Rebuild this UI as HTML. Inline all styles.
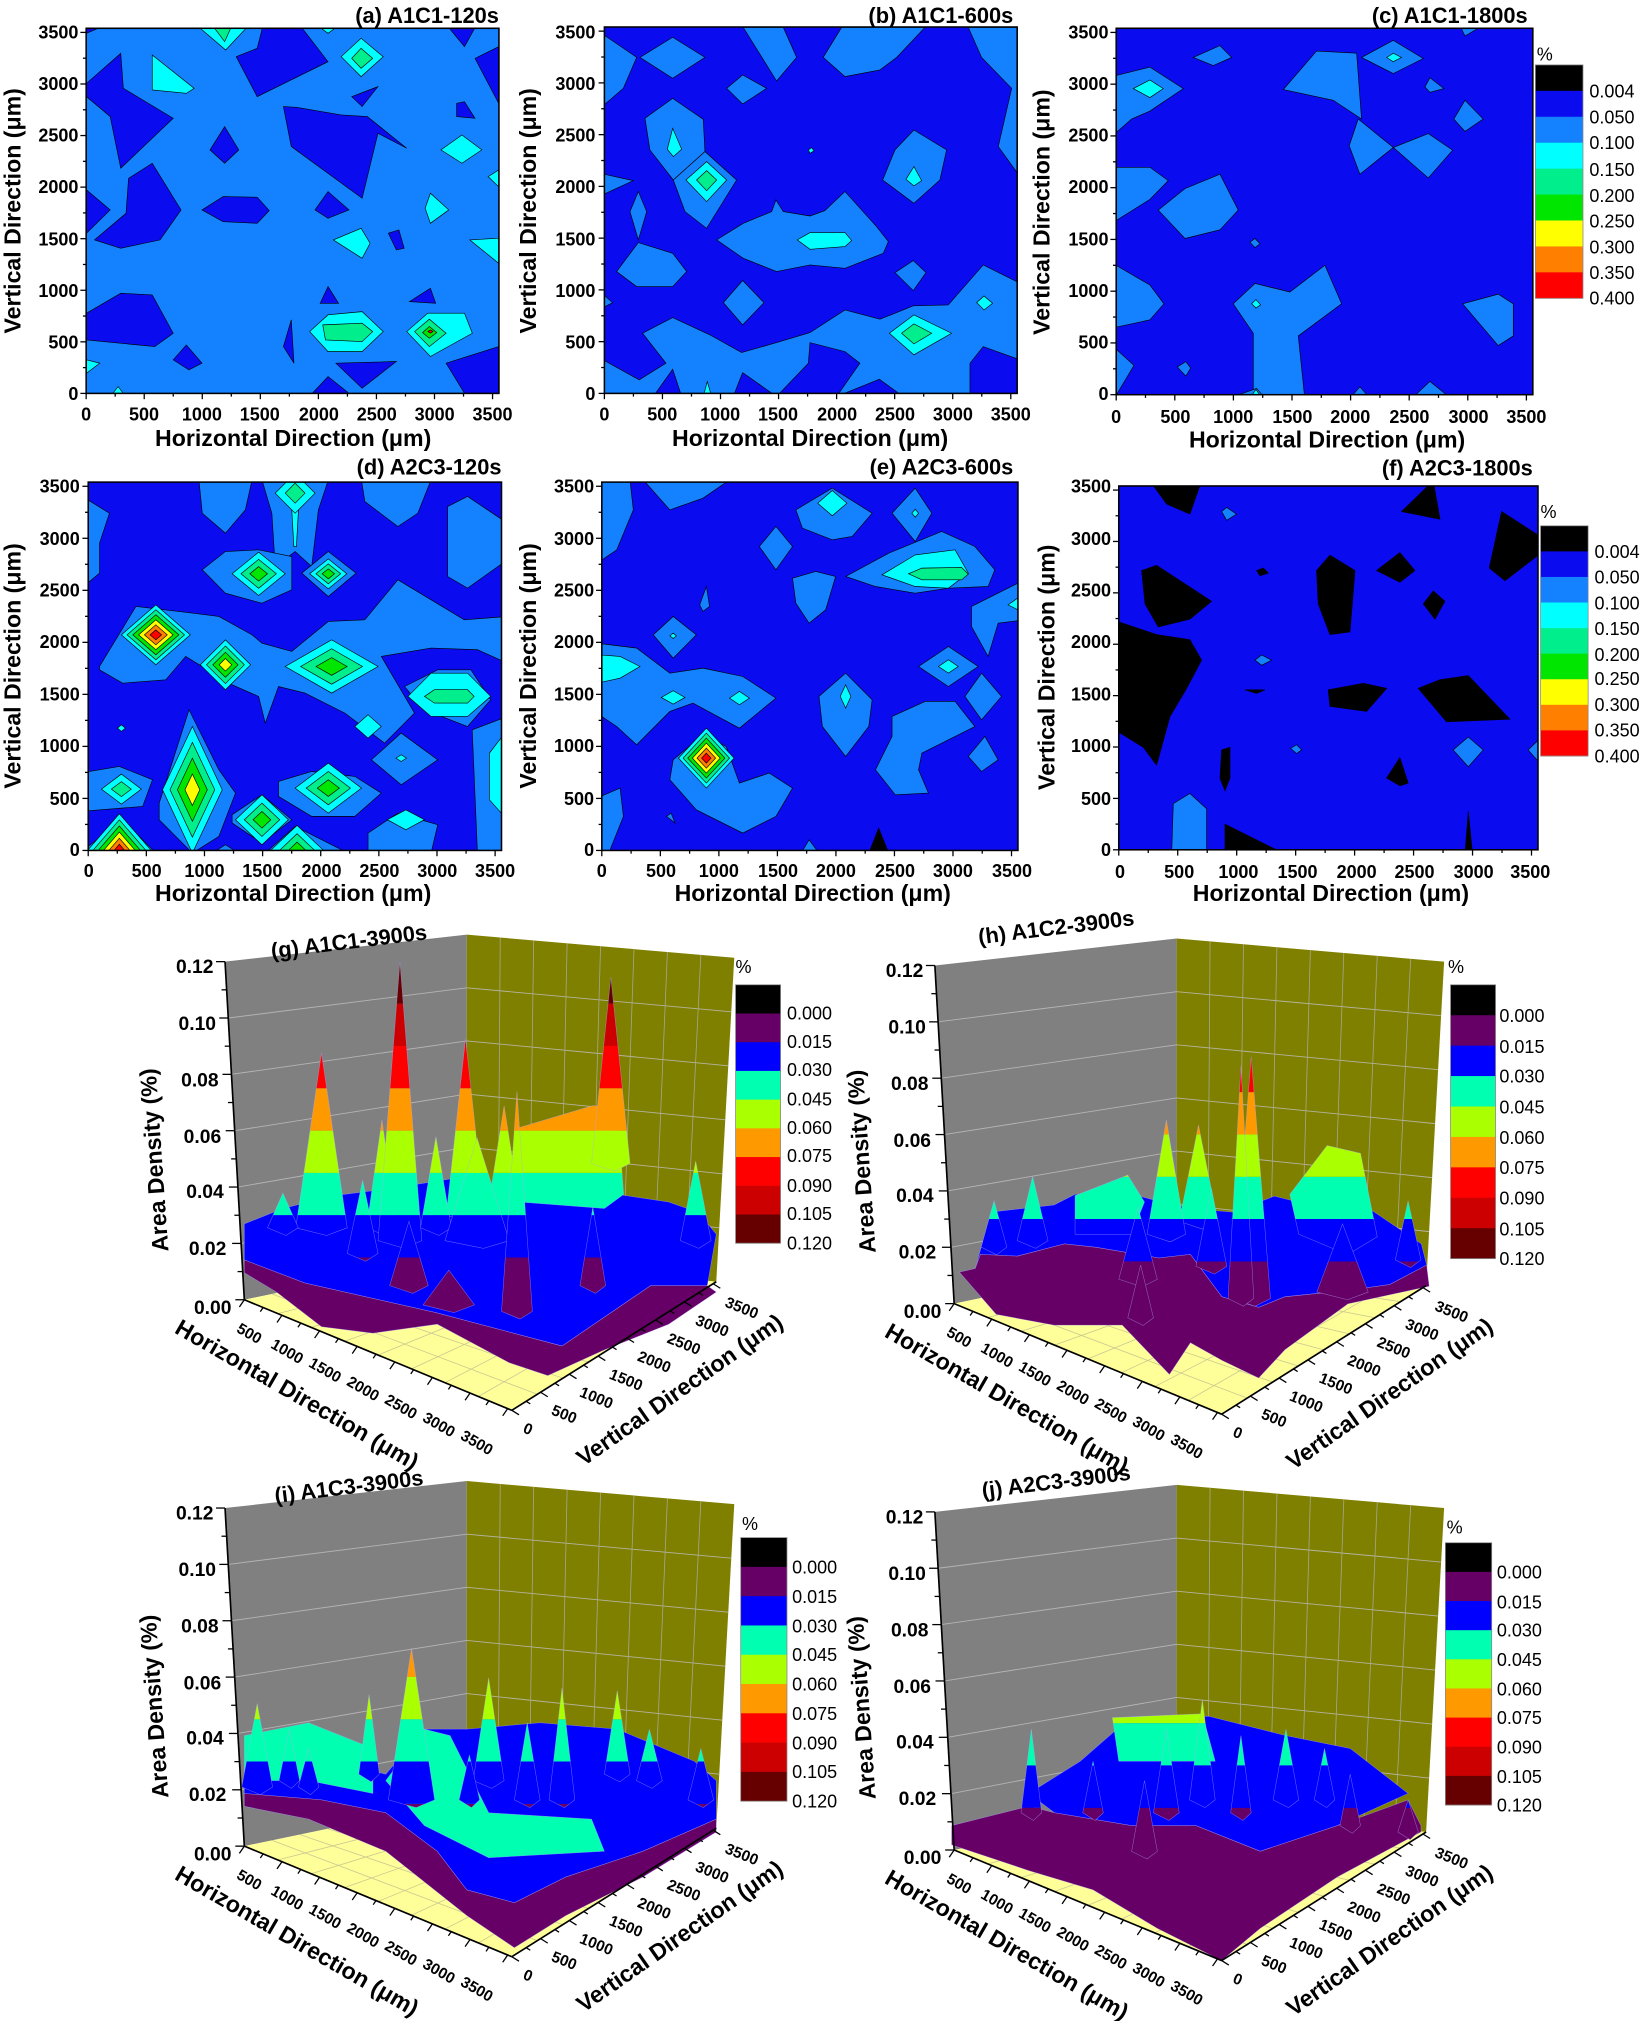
<!DOCTYPE html>
<html><head><meta charset="utf-8">
<style>
html,body{margin:0;padding:0;background:#fff;}
svg{display:block;}
.t{font-family:"Liberation Sans",Arial,sans-serif;font-weight:bold;font-size:14px;fill:#000;}
.ti{font-family:"Liberation Sans",Arial,sans-serif;font-weight:bold;font-size:17px;fill:#000;}
.ax{font-family:"Liberation Sans",Arial,sans-serif;font-weight:bold;font-size:18px;fill:#000;}
.cb{font-family:"Liberation Sans",Arial,sans-serif;font-size:14px;fill:#000;}
.zt{font-family:"Liberation Sans",Arial,sans-serif;font-weight:bold;font-size:15px;fill:#000;}
.ht{font-family:"Liberation Sans",Arial,sans-serif;font-weight:bold;font-size:12px;fill:#000;}
</style></head><body>
<svg id="s" xmlns="http://www.w3.org/2000/svg" width="1646" height="2021" viewBox="0 0 1280 1572" preserveAspectRatio="none">
<defs id="defs"></defs>
<g id="shapes"></g>

<text class="ti" text-anchor="end" x="388" y="18">(a) A1C1-120s</text>
<text class="ti" text-anchor="end" x="788" y="18">(b) A1C1-600s</text>
<text class="ti" text-anchor="end" x="1188" y="18">(c) A1C1-1800s</text>
<text class="ti" text-anchor="end" x="390" y="369">(d) A2C3-120s</text>
<text class="ti" text-anchor="end" x="788" y="369">(e) A2C3-600s</text>
<text class="ti" text-anchor="end" x="1192" y="370">(f) A2C3-1800s</text>

<text class="t" text-anchor="end"><tspan x="61" y="311">0</tspan><tspan x="61" y="271">500</tspan><tspan x="61" y="231">1000</tspan><tspan x="61" y="191">1500</tspan><tspan x="61" y="150">2000</tspan><tspan x="61" y="110">2500</tspan><tspan x="61" y="70">3000</tspan><tspan x="61" y="30">3500</tspan></text>
<text class="t" text-anchor="end"><tspan x="463" y="311">0</tspan><tspan x="463" y="271">500</tspan><tspan x="463" y="231">1000</tspan><tspan x="463" y="191">1500</tspan><tspan x="463" y="150">2000</tspan><tspan x="463" y="110">2500</tspan><tspan x="463" y="70">3000</tspan><tspan x="463" y="30">3500</tspan></text>
<text class="t" text-anchor="end"><tspan x="862" y="311">0</tspan><tspan x="862" y="271">500</tspan><tspan x="862" y="231">1000</tspan><tspan x="862" y="191">1500</tspan><tspan x="862" y="150">2000</tspan><tspan x="862" y="110">2500</tspan><tspan x="862" y="70">3000</tspan><tspan x="862" y="30">3500</tspan></text>
<text class="t" text-anchor="end"><tspan x="62" y="666">0</tspan><tspan x="62" y="626">500</tspan><tspan x="62" y="585">1000</tspan><tspan x="62" y="545">1500</tspan><tspan x="62" y="504">2000</tspan><tspan x="62" y="464">2500</tspan><tspan x="62" y="424">3000</tspan><tspan x="62" y="383">3500</tspan></text>
<text class="t" text-anchor="end"><tspan x="462" y="666">0</tspan><tspan x="462" y="626">500</tspan><tspan x="462" y="585">1000</tspan><tspan x="462" y="545">1500</tspan><tspan x="462" y="504">2000</tspan><tspan x="462" y="464">2500</tspan><tspan x="462" y="424">3000</tspan><tspan x="462" y="383">3500</tspan></text>
<text class="t" text-anchor="end"><tspan x="864" y="666">0</tspan><tspan x="864" y="626">500</tspan><tspan x="864" y="585">1000</tspan><tspan x="864" y="545">1500</tspan><tspan x="864" y="504">2000</tspan><tspan x="864" y="464">2500</tspan><tspan x="864" y="424">3000</tspan><tspan x="864" y="383">3500</tspan></text>
<text class="t" text-anchor="middle"><tspan x="67" y="327">0</tspan><tspan x="112" y="327">500</tspan><tspan x="157" y="327">1000</tspan><tspan x="202" y="327">1500</tspan><tspan x="248" y="327">2000</tspan><tspan x="293" y="327">2500</tspan><tspan x="338" y="327">3000</tspan><tspan x="383" y="327">3500</tspan></text>
<text class="t" text-anchor="middle"><tspan x="470" y="327">0</tspan><tspan x="515" y="327">500</tspan><tspan x="560" y="327">1000</tspan><tspan x="605" y="327">1500</tspan><tspan x="651" y="327">2000</tspan><tspan x="696" y="327">2500</tspan><tspan x="741" y="327">3000</tspan><tspan x="786" y="327">3500</tspan></text>
<text class="t" text-anchor="middle"><tspan x="868" y="329">0</tspan><tspan x="914" y="329">500</tspan><tspan x="959" y="329">1000</tspan><tspan x="1005" y="329">1500</tspan><tspan x="1050" y="329">2000</tspan><tspan x="1096" y="329">2500</tspan><tspan x="1142" y="329">3000</tspan><tspan x="1187" y="329">3500</tspan></text>
<text class="t" text-anchor="middle"><tspan x="69" y="682">0</tspan><tspan x="114" y="682">500</tspan><tspan x="159" y="682">1000</tspan><tspan x="204" y="682">1500</tspan><tspan x="250" y="682">2000</tspan><tspan x="295" y="682">2500</tspan><tspan x="340" y="682">3000</tspan><tspan x="385" y="682">3500</tspan></text>
<text class="t" text-anchor="middle"><tspan x="468" y="682">0</tspan><tspan x="514" y="682">500</tspan><tspan x="559" y="682">1000</tspan><tspan x="605" y="682">1500</tspan><tspan x="650" y="682">2000</tspan><tspan x="696" y="682">2500</tspan><tspan x="741" y="682">3000</tspan><tspan x="787" y="682">3500</tspan></text>
<text class="t" text-anchor="middle"><tspan x="871" y="683">0</tspan><tspan x="917" y="683">500</tspan><tspan x="963" y="683">1000</tspan><tspan x="1009" y="683">1500</tspan><tspan x="1055" y="683">2000</tspan><tspan x="1100" y="683">2500</tspan><tspan x="1146" y="683">3000</tspan><tspan x="1190" y="683">3500</tspan></text>
<text class="ax" text-anchor="middle" x="228" y="347">Horizontal Direction (μm)</text>
<text class="ax" text-anchor="middle" x="630" y="347">Horizontal Direction (μm)</text>
<text class="ax" text-anchor="middle" x="1032" y="348">Horizontal Direction (μm)</text>
<text class="ax" text-anchor="middle" x="228" y="701">Horizontal Direction (μm)</text>
<text class="ax" text-anchor="middle" x="632" y="701">Horizontal Direction (μm)</text>
<text class="ax" text-anchor="middle" x="1035" y="701">Horizontal Direction (μm)</text>
<text class="ax" text-anchor="middle" transform="translate(16,164) rotate(-90)">Vertical Direction (μm)</text>
<text class="ax" text-anchor="middle" transform="translate(417,164) rotate(-90)">Vertical Direction (μm)</text>
<text class="ax" text-anchor="middle" transform="translate(816,165) rotate(-90)">Vertical Direction (μm)</text>
<text class="ax" text-anchor="middle" transform="translate(16,518) rotate(-90)">Vertical Direction (μm)</text>
<text class="ax" text-anchor="middle" transform="translate(417,518) rotate(-90)">Vertical Direction (μm)</text>
<text class="ax" text-anchor="middle" transform="translate(820,519) rotate(-90)">Vertical Direction (μm)</text>

<text class="cb" x="1195" y="47">%</text>
<text class="cb"><tspan x="1236" y="76">0.004</tspan><tspan x="1236" y="96">0.050</tspan><tspan x="1236" y="116">0.100</tspan><tspan x="1236" y="137">0.150</tspan><tspan x="1236" y="157">0.200</tspan><tspan x="1236" y="177">0.250</tspan><tspan x="1236" y="197">0.300</tspan><tspan x="1236" y="217">0.350</tspan><tspan x="1236" y="237">0.400</tspan></text>
<text class="cb" x="1198" y="403">%</text>
<text class="cb"><tspan x="1240" y="434">0.004</tspan><tspan x="1240" y="454">0.050</tspan><tspan x="1240" y="474">0.100</tspan><tspan x="1240" y="494">0.150</tspan><tspan x="1240" y="514">0.200</tspan><tspan x="1240" y="533">0.250</tspan><tspan x="1240" y="553">0.300</tspan><tspan x="1240" y="573">0.350</tspan><tspan x="1240" y="593">0.400</tspan></text>

<text class="cb" x="572" y="757">%</text>
<text class="cb"><tspan x="612" y="793">0.000</tspan><tspan x="612" y="815">0.015</tspan><tspan x="612" y="837">0.030</tspan><tspan x="612" y="860">0.045</tspan><tspan x="612" y="882">0.060</tspan><tspan x="612" y="904">0.075</tspan><tspan x="612" y="927">0.090</tspan><tspan x="612" y="949">0.105</tspan><tspan x="612" y="972">0.120</tspan></text>
<text class="cb" x="1126" y="757">%</text>
<text class="cb"><tspan x="1166" y="795">0.000</tspan><tspan x="1166" y="819">0.015</tspan><tspan x="1166" y="842">0.030</tspan><tspan x="1166" y="866">0.045</tspan><tspan x="1166" y="890">0.060</tspan><tspan x="1166" y="913">0.075</tspan><tspan x="1166" y="937">0.090</tspan><tspan x="1166" y="961">0.105</tspan><tspan x="1166" y="984">0.120</tspan></text>
<text class="cb" x="577" y="1190">%</text>
<text class="cb"><tspan x="616" y="1224">0.000</tspan><tspan x="616" y="1247">0.015</tspan><tspan x="616" y="1270">0.030</tspan><tspan x="616" y="1292">0.045</tspan><tspan x="616" y="1315">0.060</tspan><tspan x="616" y="1338">0.075</tspan><tspan x="616" y="1361">0.090</tspan><tspan x="616" y="1383">0.105</tspan><tspan x="616" y="1406">0.120</tspan></text>
<text class="cb" x="1125" y="1193">%</text>
<text class="cb"><tspan x="1164" y="1228">0.000</tspan><tspan x="1164" y="1251">0.015</tspan><tspan x="1164" y="1273">0.030</tspan><tspan x="1164" y="1296">0.045</tspan><tspan x="1164" y="1319">0.060</tspan><tspan x="1164" y="1341">0.075</tspan><tspan x="1164" y="1364">0.090</tspan><tspan x="1164" y="1387">0.105</tspan><tspan x="1164" y="1409">0.120</tspan></text>

<g transform="translate(0,0)">
<text class="ti" font-size="16" text-anchor="middle" transform="translate(272,738) rotate(-7)">(g) A1C1-3900s</text>
<text class="zt" text-anchor="end"><tspan x="166" y="757">0.12</tspan><tspan x="168" y="801">0.10</tspan><tspan x="170" y="845">0.08</tspan><tspan x="172" y="889">0.06</tspan><tspan x="174" y="932">0.04</tspan><tspan x="176" y="976">0.02</tspan><tspan x="180" y="1022">0.00</tspan></text>
<text class="ax" font-size="20" text-anchor="middle" transform="translate(126,902) rotate(-94)">Area Density (%)</text>
<text class="ht" text-anchor="middle" dy="0.35em" transform="translate(194,1037) rotate(30)">500</text>
<text class="ht" text-anchor="middle" dy="0.35em" transform="translate(223.5,1051) rotate(30)">1000</text>
<text class="ht" text-anchor="middle" dy="0.35em" transform="translate(253,1065.5) rotate(30)">1500</text>
<text class="ht" text-anchor="middle" dy="0.35em" transform="translate(282.5,1080) rotate(30)">2000</text>
<text class="ht" text-anchor="middle" dy="0.35em" transform="translate(312,1094) rotate(30)">2500</text>
<text class="ht" text-anchor="middle" dy="0.35em" transform="translate(341.5,1108) rotate(30)">3000</text>
<text class="ht" text-anchor="middle" dy="0.35em" transform="translate(371,1122) rotate(30)">3500</text>
<text class="ax" font-size="19" text-anchor="middle" transform="translate(228,1090) rotate(30)">Horizontal Direction (μm)</text>
<text class="ht" transform="translate(406,1114) rotate(22)">0</text>
<text class="ht" transform="translate(428,1100) rotate(22)">500</text>
<text class="ht" transform="translate(450,1086) rotate(22)">1000</text>
<text class="ht" transform="translate(473,1072) rotate(22)">1500</text>
<text class="ht" transform="translate(495,1058) rotate(22)">2000</text>
<text class="ht" transform="translate(518,1044) rotate(22)">2500</text>
<text class="ht" transform="translate(540,1030) rotate(22)">3000</text>
<text class="ht" transform="translate(563,1016) rotate(22)">3500</text>
<text class="ax" font-size="15" text-anchor="middle" transform="translate(532,1086) rotate(-35)">Vertical Direction (μm)</text>
</g>
<g transform="translate(552,3)">
<text class="ti" font-size="16" text-anchor="middle" transform="translate(270,724) rotate(-7)">(h) A1C2-3900s</text>
<text class="zt" text-anchor="end"><tspan x="166" y="757">0.12</tspan><tspan x="168" y="801">0.10</tspan><tspan x="170" y="845">0.08</tspan><tspan x="172" y="889">0.06</tspan><tspan x="174" y="932">0.04</tspan><tspan x="176" y="976">0.02</tspan><tspan x="180" y="1022">0.00</tspan></text>
<text class="ax" font-size="20" text-anchor="middle" transform="translate(124,900) rotate(-94)">Area Density (%)</text>
<text class="ht" text-anchor="middle" dy="0.35em" transform="translate(194,1037) rotate(30)">500</text>
<text class="ht" text-anchor="middle" dy="0.35em" transform="translate(223.5,1051) rotate(30)">1000</text>
<text class="ht" text-anchor="middle" dy="0.35em" transform="translate(253,1065.5) rotate(30)">1500</text>
<text class="ht" text-anchor="middle" dy="0.35em" transform="translate(282.5,1080) rotate(30)">2000</text>
<text class="ht" text-anchor="middle" dy="0.35em" transform="translate(312,1094) rotate(30)">2500</text>
<text class="ht" text-anchor="middle" dy="0.35em" transform="translate(341.5,1108) rotate(30)">3000</text>
<text class="ht" text-anchor="middle" dy="0.35em" transform="translate(371,1122) rotate(30)">3500</text>
<text class="ax" font-size="19" text-anchor="middle" transform="translate(228,1090) rotate(30)">Horizontal Direction (μm)</text>
<text class="ht" transform="translate(406,1114) rotate(22)">0</text>
<text class="ht" transform="translate(428,1100) rotate(22)">500</text>
<text class="ht" transform="translate(450,1086) rotate(22)">1000</text>
<text class="ht" transform="translate(473,1072) rotate(22)">1500</text>
<text class="ht" transform="translate(495,1058) rotate(22)">2000</text>
<text class="ht" transform="translate(518,1044) rotate(22)">2500</text>
<text class="ht" transform="translate(540,1030) rotate(22)">3000</text>
<text class="ht" transform="translate(563,1016) rotate(22)">3500</text>
<text class="ax" font-size="15" text-anchor="middle" transform="translate(532,1086) rotate(-35)">Vertical Direction (μm)</text>
</g>
<g transform="translate(0,425)">
<text class="ti" font-size="16" text-anchor="middle" transform="translate(272,737) rotate(-7)">(i) A1C3-3900s</text>
<text class="zt" text-anchor="end"><tspan x="166" y="757">0.12</tspan><tspan x="168" y="801">0.10</tspan><tspan x="170" y="845">0.08</tspan><tspan x="172" y="889">0.06</tspan><tspan x="174" y="932">0.04</tspan><tspan x="176" y="976">0.02</tspan><tspan x="180" y="1022">0.00</tspan></text>
<text class="ax" font-size="20" text-anchor="middle" transform="translate(126,902) rotate(-94)">Area Density (%)</text>
<text class="ht" text-anchor="middle" dy="0.35em" transform="translate(194,1037) rotate(30)">500</text>
<text class="ht" text-anchor="middle" dy="0.35em" transform="translate(223.5,1051) rotate(30)">1000</text>
<text class="ht" text-anchor="middle" dy="0.35em" transform="translate(253,1065.5) rotate(30)">1500</text>
<text class="ht" text-anchor="middle" dy="0.35em" transform="translate(282.5,1080) rotate(30)">2000</text>
<text class="ht" text-anchor="middle" dy="0.35em" transform="translate(312,1094) rotate(30)">2500</text>
<text class="ht" text-anchor="middle" dy="0.35em" transform="translate(341.5,1108) rotate(30)">3000</text>
<text class="ht" text-anchor="middle" dy="0.35em" transform="translate(371,1122) rotate(30)">3500</text>
<text class="ax" font-size="19" text-anchor="middle" transform="translate(228,1090) rotate(30)">Horizontal Direction (μm)</text>
<text class="ht" transform="translate(406,1114) rotate(22)">0</text>
<text class="ht" transform="translate(428,1100) rotate(22)">500</text>
<text class="ht" transform="translate(450,1086) rotate(22)">1000</text>
<text class="ht" transform="translate(473,1072) rotate(22)">1500</text>
<text class="ht" transform="translate(495,1058) rotate(22)">2000</text>
<text class="ht" transform="translate(518,1044) rotate(22)">2500</text>
<text class="ht" transform="translate(540,1030) rotate(22)">3000</text>
<text class="ht" transform="translate(563,1016) rotate(22)">3500</text>
<text class="ax" font-size="15" text-anchor="middle" transform="translate(532,1086) rotate(-35)">Vertical Direction (μm)</text>
</g>
<g transform="translate(552,428)">
<text class="ti" font-size="16" text-anchor="middle" transform="translate(270,730) rotate(-7)">(j) A2C3-3900s</text>
<text class="zt" text-anchor="end"><tspan x="166" y="757">0.12</tspan><tspan x="168" y="801">0.10</tspan><tspan x="170" y="845">0.08</tspan><tspan x="172" y="889">0.06</tspan><tspan x="174" y="932">0.04</tspan><tspan x="176" y="976">0.02</tspan><tspan x="180" y="1022">0.00</tspan></text>
<text class="ax" font-size="20" text-anchor="middle" transform="translate(124,900) rotate(-94)">Area Density (%)</text>
<text class="ht" text-anchor="middle" dy="0.35em" transform="translate(194,1037) rotate(30)">500</text>
<text class="ht" text-anchor="middle" dy="0.35em" transform="translate(223.5,1051) rotate(30)">1000</text>
<text class="ht" text-anchor="middle" dy="0.35em" transform="translate(253,1065.5) rotate(30)">1500</text>
<text class="ht" text-anchor="middle" dy="0.35em" transform="translate(282.5,1080) rotate(30)">2000</text>
<text class="ht" text-anchor="middle" dy="0.35em" transform="translate(312,1094) rotate(30)">2500</text>
<text class="ht" text-anchor="middle" dy="0.35em" transform="translate(341.5,1108) rotate(30)">3000</text>
<text class="ht" text-anchor="middle" dy="0.35em" transform="translate(371,1122) rotate(30)">3500</text>
<text class="ax" font-size="19" text-anchor="middle" transform="translate(228,1090) rotate(30)">Horizontal Direction (μm)</text>
<text class="ht" transform="translate(406,1114) rotate(22)">0</text>
<text class="ht" transform="translate(428,1100) rotate(22)">500</text>
<text class="ht" transform="translate(450,1086) rotate(22)">1000</text>
<text class="ht" transform="translate(473,1072) rotate(22)">1500</text>
<text class="ht" transform="translate(495,1058) rotate(22)">2000</text>
<text class="ht" transform="translate(518,1044) rotate(22)">2500</text>
<text class="ht" transform="translate(540,1030) rotate(22)">3000</text>
<text class="ht" transform="translate(563,1016) rotate(22)">3500</text>
<text class="ax" font-size="15" text-anchor="middle" transform="translate(532,1086) rotate(-35)">Vertical Direction (μm)</text>
</g>
</svg>
<script>
(function(){
var NS='http://www.w3.org/2000/svg';
var S=document.getElementById('shapes'), D=document.getElementById('defs');
function el(tag,a,p){var e=document.createElementNS(NS,tag);for(var k in a)e.setAttribute(k,a[k]);(p||S).appendChild(e);return e;}
function pg(arr,fill,p,ex){var a={points:arr.map(function(v){return v.toFixed(1);}).join(' '),fill:fill};if(ex)for(var k in ex)a[k]=ex[k];return el('polygon',a,p);}
function cv(arr,f){var o=[];for(var i=0;i<arr.length;i+=2){var r=f(arr[i],arr[i+1]);o.push(r[0],r[1]);}return o;}
var DB='#0b0bf0',MB='#1482ff',CY='#00ffff',L4='#00ee8c',GR='#00e600',YE='#ffff00',OR='#ff8000',RD='#ff0000',BK='#000000';
var cid=0;
function contour(x0,y0,x1,y1,bg,list,f,dias){
  var id='c'+(cid++);
  var cp=el('clipPath',{id:id},D);el('rect',{x:x0,y:y0,width:x1-x0,height:y1-y0},cp);
  var g=el('g',{'clip-path':'url(#'+id+')'});
  el('rect',{x:x0,y:y0,width:x1-x0,height:y1-y0,fill:bg},g);
  list.forEach(function(it){pg(cv(it[1],f),it[0],g,{stroke:'#000','stroke-width':0.5});});
  (dias||[]).forEach(function(d){var n=d[4].length;for(var i=0;i<n;i++){var s=(n-i)/n;
    pg(cv([d[0],d[1]-d[3]*s,d[0]+d[2]*s,d[1],d[0],d[1]+d[3]*s,d[0]-d[2]*s,d[1]],f),d[4][i],g,{stroke:'#000','stroke-width':0.5});}});
  el('rect',{x:x0,y:y0,width:x1-x0,height:y1-y0,fill:'none',stroke:'#000','stroke-width':1.2});
  var sx=(x1-x0)/3555*250, sy=(y1-y0)/3540*250;
  for(var k=0;k<=14;k++){var L=k%2?2.5:4.5;var x=x0+k*sx;el('line',{x1:x,y1:y1,x2:x,y2:y1+L,stroke:'#000','stroke-width':1});
    var y=y1-k*sy;el('line',{x1:x0-L,y1:y,x2:x0,y2:y,stroke:'#000','stroke-width':1});}
}
var ca=function(x,y){return [x/2.45,y/3.858];};
contour(67,22,388,306,MB,[
[DB,[450,170,490,290,625,185,575,83,500,83,490,145]],
[DB,[165,250,230,160,235,265,330,355,230,505,210,350,165,290]],
[DB,[540,320,555,440,690,595,720,400,775,445,700,350,650,345,565,322]],
[DB,[180,720,230,745,305,720,345,630,290,490,245,535,240,640]],
[DB,[385,630,425,590,490,592,513,632,490,670,425,665]],
[DB,[165,940,230,880,290,885,330,1000,295,1040,165,1020]],
[DB,[850,1090,950,1040,950,1180,885,1180]],
[DB,[640,1090,755,1085,690,1165]],
[DB,[905,175,950,140,950,310]],
[DB,[600,630,625,575,665,630,625,655]],
[DB,[400,450,428,380,455,450,428,490]],
[DB,[165,570,210,630,165,700]],
[DB,[595,1180,625,1130,665,1180]],
[DB,[330,1080,355,1035,385,1090,360,1110]],
[DB,[610,910,625,860,645,910]],
[DB,[780,905,820,865,830,910]],
[DB,[540,1040,555,960,560,1090]],
[DB,[670,290,720,260,690,320]],
[DB,[160,83,190,83,165,100]],
[DB,[855,83,905,83,885,140]],
[DB,[740,700,760,690,770,745,755,750]],
[DB,[870,310,885,305,905,355,870,350]],
[CY,[290,165,370,265,355,280,290,270]],
[CY,[810,625,820,580,855,630,820,670]],
[CY,[635,720,688,685,705,730,690,775]],
[CY,[895,720,950,715,950,790]],
[CY,[840,450,880,405,918,450,880,490]],
[CY,[650,170,688,115,730,170,688,230]],
[CY,[590,995,625,945,690,935,730,995,690,1055,625,1055]],
[CY,[775,995,815,940,885,940,900,1000,820,1070]],
[CY,[380,83,470,83,430,150]],
[CY,[165,1080,190,1090,165,1120]],
[CY,[930,530,950,510,950,560]],
[CY,[215,1180,225,1160,235,1180]],
[CY,[610,83,640,83,625,100]],
[L4,[615,975,690,970,710,995,690,1025,620,1020]],
[L4,[790,995,818,958,850,1000,818,1040]],
[L4,[408,83,440,83,428,125]],
[L4,[670,175,688,145,710,175,688,205]],
[GR,[805,998,818,980,832,998,818,1015]],
[RD,[815,995,820,990,825,995,820,1000]]
],ca);
var cb=function(x,y){return [(590+x/3)/1.286,(20+y/3)/1.286];};
contour(470,21,791,306,DB,[
[MB,[42,45,140,112,100,205,42,255]],
[MB,[150,112,248,52,345,112,248,175]],
[MB,[460,22,580,22,620,112,560,183]],
[MB,[700,112,755,22,1005,22,920,112,870,150,765,170]],
[MB,[1135,22,1290,22,1290,470,1225,380,1265,205,1175,112]],
[MB,[410,205,458,165,530,205,458,252]],
[MB,[165,295,248,235,340,298,345,395,250,480,180,390]],
[MB,[250,480,345,395,440,480,350,625,285,575]],
[MB,[30,460,130,482,30,528]],
[MB,[120,575,145,515,170,575,145,660]],
[MB,[80,755,145,668,248,700,290,755,248,800,140,800]],
[MB,[380,660,460,610,545,575,558,540,580,575,660,588,705,572,765,515,860,620,895,665,880,700,765,745,660,735,560,755,460,715]],
[MB,[878,480,915,390,972,330,1070,390,1050,480,972,550]],
[MB,[915,758,970,722,1008,758,970,812]],
[MB,[400,848,458,782,522,848,458,915]],
[MB,[30,815,68,848,30,868]],
[MB,[30,1015,148,1080,228,1030,158,940,248,893,360,945,455,998,560,968,660,938,765,870,870,898,970,858,1075,855,1180,735,1290,790,1290,1130,30,1130]],
[DB,[190,1130,248,1048,275,1130]],
[DB,[430,1130,458,1058,560,1130]],
[DB,[560,1130,655,1030,660,968,765,995,810,1030,740,1130]],
[DB,[740,1130,868,1078,940,1130]],
[DB,[1140,1130,1140,1030,1180,980,1290,1020,1290,1130]],
[CY,[232,388,248,325,275,388,250,410]],
[CY,[288,480,350,425,410,480,350,545]],
[L4,[320,480,350,452,380,480,350,512]],
[CY,[622,660,660,638,765,638,785,662,765,680,660,688]],
[CY,[948,478,972,440,995,482,972,498]],
[CY,[1160,848,1182,828,1208,850,1182,870]],
[CY,[898,940,972,885,1085,940,972,1005]],
[L4,[935,940,972,912,1025,940,972,972]],
[CY,[340,1130,352,1085,365,1130]],
[CY,[655,390,665,383,672,393,660,400]]
],cb);
var cc=function(x,y){return [(1100+x/3)/1.286,(20+y/1.867)/1.286];};
contour(868,22,1192,307,DB,[
[MB,[40,105,150,88,250,128,150,170,95,185,40,215]],
[MB,[280,70,360,48,395,70,340,85]],
[MB,[550,130,650,58,770,62,785,185,700,150]],
[MB,[785,70,880,38,970,72,880,100]],
[MB,[748,235,775,185,880,238,985,212,1058,243,985,295,880,238,780,288]],
[MB,[975,125,990,108,1032,128,990,135]],
[MB,[1062,185,1095,150,1150,185,1095,208]],
[MB,[40,275,150,275,205,300,150,335,40,378]],
[MB,[175,355,255,315,360,288,415,355,360,392,255,408]],
[MB,[40,455,150,495,192,530,150,560,40,575]],
[MB,[400,530,465,492,570,508,675,458,725,530,595,590,615,710,460,710,460,585]],
[MB,[1088,530,1195,512,1240,530,1240,590,1195,608]],
[MB,[40,610,102,645,40,710]],
[MB,[232,648,258,638,272,650,258,665]],
[MB,[370,710,470,688,500,710]],
[MB,[745,710,780,685,815,710]],
[MB,[930,710,990,675,1060,710]],
[MB,[1080,10,1150,10,1095,30]],
[MB,[450,415,465,408,480,418,465,425]],
[CY,[100,128,150,112,190,128,150,145]],
[CY,[860,70,880,62,905,70,880,78]],
[CY,[455,530,468,522,482,532,468,538]],
[CY,[445,710,468,690,490,710]]
],cc);
var cde=function(x,y){return [x/1.939,(470+y/3)/1.286];};
contour(68.6,375,390,661.5,DB,[
[MB,[120,75,165,130,150,220,150,310,120,360]],
[MB,[300,30,380,30,370,120,340,190,305,130]],
[MB,[395,30,495,30,480,120,470,290,445,245,415,290,410,130]],
[MB,[545,30,650,30,630,130,600,170,550,95]],
[MB,[675,110,705,80,765,160,765,270,705,355,675,320]],
[MB,[305,300,340,245,390,240,440,260,440,360,395,400,340,370]],
[MB,[455,310,495,245,537,310,495,380]],
[MB,[150,590,205,410,290,430,330,440,380,495,395,520,440,545,495,455,550,450,600,330,700,450,765,440,765,580,720,540,650,535,575,560,625,730,580,820,520,730,460,670,420,650,400,760,390,680,350,645,280,560,250,630,185,640,150,600]],
[MB,[610,650,660,600,710,600,740,690,705,770,640,720]],
[MB,[560,870,605,790,660,870,605,945]],
[MB,[712,780,765,740,765,1150,720,1150]],
[MB,[120,910,180,890,230,930,215,1010,120,1025]],
[MB,[240,1000,285,720,330,900,355,970,330,1100,290,1150,240,1050]],
[MB,[350,1035,395,975,440,1050,395,1120,350,1060]],
[MB,[420,935,470,905,535,920,575,970,535,1040,470,1040,420,980]],
[MB,[555,1090,600,1030,660,1065,650,1150,555,1150]],
[MB,[120,1150,185,1050,235,1150]],
[MB,[400,1150,445,1070,525,1150]],
[MB,[320,1150,340,1125,360,1150]],
[CY,[440,120,450,120,447,230,443,230]],
[CY,[738,850,765,780,765,1050,738,990]],
[CY,[615,680,650,610,705,610,740,680,705,740,650,740]],
[L4,[640,680,655,660,705,660,715,680,705,700,655,700]]
],cde,[
[235,495,52,90,[CY,L4,GR,YE,OR,RD]],
[340,585,38,75,[CY,L4,GR,YE]],
[390,312,40,65,[CY,L4,GR]],
[495,312,28,45,[CY,L4,GR]],
[500,590,70,80,[CY,L4,GR]],
[555,770,20,35,[CY]],
[605,865,8,10,[CY]],
[183,958,30,45,[CY,L4]],
[290,960,45,190,[CY,L4,GR,YE]],
[395,1050,40,75,[CY,L4,GR]],
[495,955,50,75,[CY,L4,GR]],
[612,1050,28,30,[CY]],
[180,1142,48,110,[CY,L4,GR,YE,OR,RD]],
[448,1142,40,75,[CY,L4,GR]],
[445,70,30,60,[CY,L4]],
[183,775,6,10,[CY]]
]);
contour(468,375,791.6,661.5,DB,[
[MB,[900,30,950,30,955,120,930,240,900,280]],
[MB,[970,30,1100,30,1060,85,1010,120]],
[MB,[1200,120,1255,55,1315,130,1285,200,1255,210,1210,175]],
[MB,[1345,130,1380,55,1405,130,1380,215]],
[MB,[1145,230,1170,170,1195,230,1170,300]],
[MB,[1195,325,1230,305,1260,320,1245,420,1220,460,1200,400]],
[MB,[1275,320,1340,250,1420,185,1470,230,1500,300,1490,350,1430,355,1380,370,1320,350]],
[MB,[1465,410,1545,330,1545,450,1505,460,1490,560,1465,470]],
[MB,[1055,405,1065,350,1070,410,1060,425]],
[MB,[985,495,1015,440,1050,495,1015,565]],
[MB,[1385,590,1430,530,1475,590,1430,650]],
[MB,[1455,680,1480,610,1510,680,1480,750]],
[MB,[900,520,960,535,1010,610,1060,595,1120,620,1170,685,1115,775,1045,700,1010,725,960,825,930,770,900,730]],
[MB,[1015,870,1060,795,1095,830,1115,940,1160,910,1195,955,1170,1040,1120,1090,1050,1020,1010,930]],
[MB,[1235,680,1275,610,1315,690,1310,770,1275,860,1240,770]],
[MB,[1345,740,1395,695,1440,695,1470,770,1390,850,1385,900,1400,970,1350,975,1320,900,1345,800]],
[MB,[1460,860,1485,800,1505,870,1480,905]],
[MB,[900,985,935,955,940,1040,918,1150,900,1150]],
[MB,[1208,1150,1220,1110,1235,1150]],
[MB,[1005,1040,1012,1030,1018,1060]],
[BK,[1310,1150,1325,1075,1340,1150]],
[CY,[1330,315,1380,255,1440,240,1460,310,1430,355,1380,350]],
[L4,[1370,312,1390,295,1450,293,1460,313,1450,330,1390,330]],
[CY,[900,555,935,560,965,590,935,625,900,640]],
[CY,[1520,405,1545,370,1545,430]]
],cde,[
[1065,865,42,90,[CY,L4,GR,YE,OR,RD]],
[1015,498,5,8,[CY]],
[1015,683,18,20,[CY]],
[1115,685,15,20,[CY]],
[1275,680,8,35,[CY]],
[1430,590,15,20,[CY]],
[1255,100,22,38,[CY]],
[1380,130,5,12,[CY]]
]);
var cf=function(x,y){return [(1100+x/3)/1.286,378+(y-870)*283/710];};
contour(870,378,1196,661,DB,[
[BK,[150,860,305,860,270,925,200,905]],
[BK,[905,920,1000,860,1020,935]],
[BK,[1205,920,1325,970,1325,1000,1215,1055,1168,1030]],
[BK,[125,1035,170,1025,335,1095,270,1130,175,1145,135,1100]],
[BK,[650,1035,690,1005,765,1035,750,1155,690,1160,655,1100]],
[BK,[830,1035,900,1000,945,1035,900,1058]],
[BK,[970,1100,1000,1075,1035,1095,1005,1130]],
[BK,[55,1135,170,1160,270,1170,305,1210,260,1265,210,1320,170,1415,130,1380,55,1350]],
[BK,[685,1268,790,1255,860,1265,800,1310,690,1300]],
[BK,[955,1265,1020,1248,1105,1240,1230,1325,1040,1330]],
[BK,[365,1385,390,1380,390,1440,375,1465,360,1440]],
[BK,[860,1440,900,1400,925,1450,900,1455]],
[BK,[375,1530,560,1590,375,1590]],
[BK,[470,1035,490,1030,505,1040,480,1045]],
[BK,[435,1268,495,1268,470,1275]],
[BK,[1095,1590,1105,1505,1118,1590]],
[MB,[365,920,380,912,410,925,380,937]],
[MB,[1060,1385,1105,1360,1150,1385,1105,1418]],
[MB,[220,1490,270,1470,320,1500,320,1590,215,1590]],
[MB,[1285,1385,1325,1360,1325,1415]],
[MB,[465,1210,485,1200,515,1210,485,1220]],
[MB,[572,1382,590,1375,605,1385,590,1392]]
],cf);
var cols=[BK,DB,MB,CY,L4,GR,YE,OR,RD];
function cbar(x,y,w,h,cl){var bh=h/cl.length;cl.forEach(function(c,i){el('rect',{x:x,y:y+i*bh,width:w,height:bh+0.3,fill:c});});el('rect',{x:x,y:y,width:w,height:h,fill:'none',stroke:'#888','stroke-width':0.6});}
cbar(1194,50.5,37,181.5,cols);
cbar(1198,409,37,179,cols);
var C3=['#660066','#0000ff','#00ffb0','#aaff00','#ff9900','#ff0000','#cc0000','#660000'];
function lerp(a,b,t){return [a[0]+(b[0]-a[0])*t,a[1]+(b[1]-a[1])*t];}
function d3(dx,dy,Z,blue,purple,fixed,plats,peaks){
  function P(x,y){return [x+dx,y+dy];}
  var Lt=P(175,748),Bt=P(363,727),Rt=P(571,745),Lb=P(190,1011),Bb=P(363,975),Rb=P(557,997),F=P(398,1097);
  pg([].concat(Lt,Bt,Bb,Lb),'#808080');
  pg([].concat(Bt,Rt,Rb,Bb),'#808000');
  var k,a,b;
  for(k=1;k<6;k++){a=lerp(Lb,Lt,k/6);b=lerp(Bb,Bt,k/6);el('line',{x1:a[0],y1:a[1],x2:b[0],y2:b[1],stroke:'#b4b4b4','stroke-width':0.7});
    a=lerp(Rb,Rt,k/6);el('line',{x1:b[0],y1:b[1],x2:a[0],y2:a[1],stroke:'#b4b4a0','stroke-width':0.7});}
  for(k=1;k<8;k++){a=lerp(Bt,Rt,k/8);b=lerp(Bb,Rb,k/8);el('line',{x1:a[0],y1:a[1],x2:b[0],y2:b[1],stroke:'#a8a890','stroke-width':0.6});}
  pg([].concat(Lb,Bb,Rb,F),'#ffff99');
  for(k=1;k<8;k++){a=lerp(Lb,F,k/8);b=lerp(Bb,Rb,k/8);el('line',{x1:a[0],y1:a[1],x2:b[0],y2:b[1],stroke:'#c8c890','stroke-width':0.6});
    a=lerp(Lb,Bb,k/8);b=lerp(F,Rb,k/8);el('line',{x1:a[0],y1:a[1],x2:b[0],y2:b[1],stroke:'#c8c890','stroke-width':0.6});}
  var BH=32.9, ids=[];
  for(k=0;k<8;k++){var id='b'+dx+'_'+dy+'_'+k;ids.push(id);var cp=el('clipPath',{id:id},D);
    var y1=Z-(k+1)*BH, y2=Z-k*BH; if(k==0)y2=1600; if(k==7)y1=0;
    el('rect',{x:0,y:y1,width:1280,height:y2-y1},cp);}
  var ls={stroke:'#b0a8ff','stroke-width':0.4,'stroke-opacity':0.6};
  pg(blue,'#0000ff',null,ls);
  pg(purple,'#660066',null,ls);
  fixed.forEach(function(f){pg(f[1],f[0],null,ls);});
  function banded(pts){for(var k=0;k<8;k++){pg(pts,C3[k],null,{'clip-path':'url(#'+ids[k]+')',stroke:'#b0a8ff','stroke-width':0.4,'stroke-opacity':0.6});}}
  plats.forEach(banded);
  peaks.slice().sort(function(p,q){return p[3]-q[3];}).forEach(function(p){
    banded([p[0],p[1],p[0]+p[2],p[3],p[0]+p[2]*0.2,p[3]+6,p[0]-p[2],p[3]]);
  });
  var ax={stroke:'#000','stroke-width':1.3};
  el('line',Object.assign({x1:Lt[0],y1:Lt[1],x2:Lb[0],y2:Lb[1]},ax));
  el('line',Object.assign({x1:Lb[0],y1:Lb[1],x2:F[0],y2:F[1]},ax));
  el('line',Object.assign({x1:F[0],y1:F[1],x2:Rb[0],y2:Rb[1]},ax));
  for(k=0;k<=12;k++){a=lerp(Lb,Lt,k/12);var L=k%2?4:7;el('line',{x1:a[0]-L,y1:a[1],x2:a[0],y2:a[1],stroke:'#000','stroke-width':1});}
  for(k=0;k<=14;k++){a=lerp(Lb,F,k/14.22);L=k%2?4:7;el('line',{x1:a[0],y1:a[1],x2:a[0]-L*0.55,y2:a[1]+L*0.8,stroke:'#000','stroke-width':1});
    a=lerp(F,Rb,k/14.22);el('line',{x1:a[0],y1:a[1],x2:a[0]+L*0.8,y2:a[1]+L*0.5,stroke:'#000','stroke-width':1});}
}
d3(0,0,1011,
 [190,952,220,940,260,930,300,925,363,915,400,925,440,929,480,929,520,935,543,943,557,960,550,1000,506,1000,437,1047,339,1021,237,998,190,980],
 [190,980,237,998,339,1021,437,1047,506,1000,550,1000,557,1005,520,1030,470,1050,426,1070,396,1060,340,1030,290,1037,250,1032,215,1005,190,990],
 [],
 [[404,877,461,860,480,862,485,929,470,940,404,935,398,900]],
 [[250,819,20,955],[311,748,17,965],[362,808,15,945],[402,849,12,1020],[475,760,15,905],[297,871,12,955],[339,884,12,955],[392,860,15,955],[220,928,12,955],[282,918,12,975],[371,885,25,965],[541,903,12,965],[318,950,15,1000],[461,939,10,1000],[349,988,20,1015]]
);
var ch=function(x,y){return [640+x/2.45,701+y/3.64];};
d3(552,3,1014,
 cv([320,880,440,860,480,830,590,830,640,850,700,870,780,880,860,835,900,850,960,860,1010,840,1060,890,1140,970,1150,1030,1080,1085,1010,1100,880,1120,830,1150,760,1120,700,1000,640,1010,600,1000,520,980,460,970,370,1005,300,1000,290,1040],ch),
 cv([290,1040,300,1000,370,1005,460,970,520,980,600,1000,640,1010,700,1000,760,1120,830,1150,880,1120,1010,1100,1080,1085,1150,1030,1155,1090,1000,1140,880,1270,830,1350,760,1300,700,1250,660,1340,570,1200,440,1200,330,1170,260,1050],ch),
 [],
 [[836,930,877,914,890,935,880,960,836,960],[1003,929,1032,891,1058,897,1071,962,1048,976,1010,960]],
 [[973,822,15,1010],[965,829,10,1010],[907,871,15,960],[932,875,15,950],[803,915,12,965],[1095,934,10,980],[885,939,15,995],[942,924,12,985],[1044,952,20,1005],[887,984,10,1025],[773,934,10,970]]
);
d3(0,425,1436,
 [190,1370,220,1360,260,1370,300,1380,330,1345,363,1345,420,1340,480,1345,540,1370,557,1385,557,1415,500,1440,440,1460,400,1480,363,1470,340,1440,300,1410,250,1400,190,1395],
 [190,1395,250,1400,300,1410,340,1440,363,1470,400,1480,440,1460,500,1440,557,1415,557,1425,500,1460,440,1490,400,1515,363,1490,300,1440,240,1415,190,1405],
 [['#00ffb0',[190,1350,240,1340,290,1360,290,1395,240,1385,190,1385]],['#00ffb0',[300,1385,330,1345,350,1350,380,1410,460,1415,470,1440,380,1445,330,1420]]],
 [],
 [[320,1282,18,1400],[200,1325,12,1390],[437,1313,10,1400],[380,1305,12,1385],[480,1315,10,1380],[287,1318,8,1380],[505,1345,10,1385],[545,1360,10,1400],[240,1360,8,1390],[365,1365,8,1400],[225,1345,8,1385],[410,1340,10,1400]]
);
d3(552,428,1439,
 [800,1395,840,1370,880,1335,940,1335,1000,1350,1050,1360,1095,1395,1040,1420,980,1440,930,1420,880,1420,820,1410],
 [740,1420,800,1405,820,1410,880,1420,930,1420,980,1440,1040,1420,1095,1400,1105,1420,1105,1425,1040,1460,980,1500,950,1525,900,1500,850,1470,800,1455,740,1435],
 [],
 [[865,1336,935,1333,945,1370,870,1370]],
 [[802,1345,8,1410],[935,1322,10,1400],[907,1345,10,1410],[1000,1345,10,1400],[965,1350,8,1410],[1050,1380,8,1420],[1095,1400,8,1425],[890,1385,10,1440],[850,1370,8,1410],[1030,1360,8,1400]]
);
var c3=['#000000'].concat(C3);
cbar(572,766,35,201,c3);
cbar(1128,766,35,213,c3);
cbar(576,1196,36,205,c3);
cbar(1124,1200,36,204,c3);
})();
</script>
</body></html>
